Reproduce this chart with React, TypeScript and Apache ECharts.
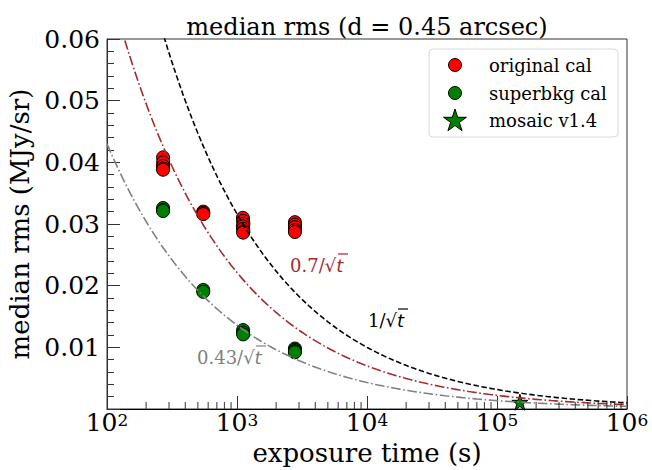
import React, { useEffect, useRef } from 'react';
import * as echarts from 'echarts';

const SERIF = '"DejaVu Serif", serif';
const SANS = '"DejaVu Sans", sans-serif';

// ---- data ----
const originalCalTime = [270, 270, 270, 270, 270, 550, 550, 550, 1110, 1115, 1120, 1110, 1115, 1120, 1115, 2790, 2790, 2790, 2790, 2790];
const originalCalRms = [0.0408, 0.0400, 0.0394, 0.0390, 0.0388, 0.0320, 0.0318, 0.0316, 0.0310, 0.0305, 0.0300, 0.0296, 0.0292, 0.0288, 0.0286, 0.0303, 0.0299, 0.0295, 0.0290, 0.0287];

const superbkgCalTime = [270, 270, 270, 550, 550, 1115, 1115, 1115, 2790, 2790, 2790, 2790];
const superbkgCalRms = [0.0326, 0.0323, 0.0321, 0.0193, 0.0190, 0.0128, 0.0124, 0.0121, 0.0098, 0.0096, 0.0094, 0.0092];

const mosaicTime = [150000];
const mosaicRms = [0.0011];

// model curves c / sqrt(t), coefficients as labelled on the chart
const modelNames = ['1/√t', '0.7/√t', '0.43/√t'];
const modelCoef = [1, 0.7, 0.43];
const modelColors = ['#000000', '#a52a2a', '#808080'];

const yTicks = [0.01, 0.02, 0.03, 0.04, 0.05, 0.06];
const xDecades = [100, 1000, 10000, 100000, 1000000];

function starPoints(cx: number, cy: number, R: number) {
  const pts: number[][] = [];
  for (let k = 0; k < 10; k++) {
    const r = k % 2 === 0 ? R : R * 0.382;
    const a = (-90 + k * 36) * Math.PI / 180;
    pts.push([cx + r * Math.cos(a), cy + r * Math.sin(a)]);
  }
  return pts;
}
const starPath = 'path://' + starPoints(50, 50, 50).map((p, i) => (i === 0 ? 'M' : 'L') + p[0].toFixed(2) + ' ' + p[1].toFixed(2)).join(' ') + ' Z';

export default function App() {
  const ref = useRef<HTMLDivElement>(null);
  useEffect(() => {
    document.body.style.margin = '0';
    const chart = echarts.init(ref.current!, null, { renderer: 'svg' });

    // sample points for the model curves (evenly in log t)
    const sampleT: number[] = [];
    for (let i = 0; i <= 240; i++) sampleT.push(Math.pow(10, 2 + (4 * i) / 240));

    const minorTicks: number[][] = [];
    for (let d = 0; d < xDecades.length - 1; d++) {
      for (let m = 2; m <= 9; m++) minorTicks.push([xDecades[d] * m, 0]);
    }

    const lineSeries = modelCoef.map((c, i) => ({
      name: modelNames[i],
      type: 'line',
      data: sampleT.map((t) => [t, c / Math.sqrt(t)]),
      showSymbol: false,
      symbol: 'none',
      clip: true,
      z: 5,
      silent: true,
      lineStyle: {
        color: modelColors[i],
        width: 1.6,
        type: i === 0 ? [5.5, 2.6] : [9.6, 2.6, 1.6, 2.6],
      },
    }));

    const legendTexts = ['original cal', 'superbkg cal', 'mosaic v1.4'];
    const legendY = [65, 93, 120];

    const option: any = {
      animation: false,
      title: {
        text: 'median rms (d = 0.45 arcsec)',
        left: 367,
        top: 15,
        textAlign: 'center',
        padding: 0,
        textStyle: { fontFamily: SERIF, fontSize: 24, fontWeight: 'normal', color: '#000' },
      },
      grid: { left: 107, right: 25, top: 39, bottom: 61, show: true, borderColor: '#333', borderWidth: 1, containLabel: false, outerBoundsMode: 'none' },
      xAxis: {
        type: 'log',
        logBase: 10,
        min: 100,
        max: 1000000,
        name: 'exposure time (s)',
        nameLocation: 'middle',
        nameGap: 27,
        nameTextStyle: { fontFamily: SERIF, fontSize: 26, color: '#000' },
        axisLine: { show: true, lineStyle: { color: '#000', width: 1 } },
        axisTick: { show: true, inside: true, length: 13, lineStyle: { color: '#333', width: 1 } },
        minorTick: { show: false },
        splitLine: { show: false },
        axisLabel: {
          margin: 2,
          formatter: (v: number) => '{b|10}{s|' + Math.round(Math.log10(v)) + '}',
          rich: {
            b: { fontFamily: SERIF, fontSize: 25, color: '#000', lineHeight: 24, verticalAlign: 'bottom' },
            s: { fontFamily: SERIF, fontSize: 17, color: '#000', lineHeight: 17, verticalAlign: 'top' },
          },
        },
      },
      yAxis: {
        type: 'value',
        min: 0,
        max: 0.06,
        interval: 0.01,
        name: 'median rms (MJy/sr)',
        nameLocation: 'middle',
        nameGap: 66,
        nameTextStyle: { fontFamily: SERIF, fontSize: 26, color: '#000' },
        axisLine: { show: true, lineStyle: { color: '#333', width: 1 } },
        axisTick: { show: true, inside: true, length: 13, lineStyle: { color: '#333', width: 1 } },
        minorTick: { show: true, splitNumber: 5, length: 7, lineStyle: { color: '#333', width: 1 } },
        splitLine: { show: false },
        minorSplitLine: { show: false },
        axisLabel: {
          margin: 7,
          fontFamily: SERIF,
          fontSize: 25,
          color: '#000',
          formatter: (v: number) => (yTicks.some((t) => Math.abs(t - v) < 1e-9) ? v.toFixed(2) : ''),
        },
      },
      series: [
        {
          name: 'original cal',
          type: 'scatter',
          data: originalCalTime.map((t, i) => [t, originalCalRms[i]]),
          symbol: 'circle',
          symbolSize: 13,
          z: 3,
          itemStyle: { color: '#ff0000', borderColor: '#000', borderWidth: 1, opacity: 1 },
        },
        {
          name: 'superbkg cal',
          type: 'scatter',
          data: superbkgCalTime.map((t, i) => [t, superbkgCalRms[i]]),
          symbol: 'circle',
          symbolSize: 13,
          z: 3,
          itemStyle: { color: '#008000', borderColor: '#000', borderWidth: 1, opacity: 1 },
        },
        {
          name: 'mosaic v1.4',
          type: 'scatter',
          data: mosaicTime.map((t, i) => [t, mosaicRms[i]]),
          symbol: starPath,
          symbolSize: 16,
          z: 4,
          itemStyle: { color: '#008000', borderColor: '#000', borderWidth: 1, opacity: 1 },
        },
        ...lineSeries,
        {
          name: 'minor ticks',
          type: 'custom',
          silent: true,
          clip: false,
          z: 6,
          data: minorTicks,
          renderItem: (params: any, api: any) => {
            const p = api.coord([api.value(0), 0]);
            return {
              type: 'line',
              shape: { x1: p[0], y1: p[1], x2: p[0], y2: p[1] - 7 },
              style: { stroke: '#333', lineWidth: 1 },
            };
          },
        },
      ],
      graphic: [
        // legend box
        {
          type: 'rect',
          z: 100,
          shape: { x: 429, y: 49, width: 189, height: 88, r: 4 },
          style: { fill: 'rgba(255,255,255,0.8)', stroke: '#d9d9d9', lineWidth: 1 },
        },
        { type: 'circle', z: 101, shape: { cx: 455, cy: legendY[0], r: 6.5 }, style: { fill: '#ff0000', stroke: '#000', lineWidth: 1 } },
        { type: 'circle', z: 101, shape: { cx: 455, cy: legendY[1], r: 6.5 }, style: { fill: '#008000', stroke: '#000', lineWidth: 1 } },
        { type: 'polygon', z: 101, shape: { points: starPoints(455, legendY[2] + 1, 12) }, style: { fill: '#008000', stroke: '#000', lineWidth: 1 } },
        ...legendTexts.map((t, i) => ({
          type: 'text',
          z: 101,
          x: 489,
          y: legendY[i],
          style: { text: t, fontFamily: SERIF, fontSize: 18, fill: '#000', textVerticalAlign: 'middle', textAlign: 'left' },
        })),
        // curve annotations
        {
          type: 'group',
          x: 290,
          y: 265,
          z: 100,
          children: [
            {
              type: 'text',
              x: 0,
              y: 0,
              style: { text: '0.7/√{i|t}', fontFamily: SERIF, fontSize: 18, fill: '#a52a2a', textVerticalAlign: 'middle', rich: { i: { fontStyle: 'italic', fontFamily: SANS, fontSize: 18, fill: '#a52a2a' } } },
            },
            { type: 'line', shape: { x1: 48, y1: -11, x2: 58, y2: -11 }, style: { stroke: '#a52a2a', lineWidth: 1.2 } },
          ],
        },
        {
          type: 'group',
          x: 368,
          y: 320,
          z: 100,
          children: [
            {
              type: 'text',
              x: 0,
              y: 0,
              style: { text: '1/√{i|t}', fontFamily: SERIF, fontSize: 18, fill: '#000', textVerticalAlign: 'middle', rich: { i: { fontStyle: 'italic', fontFamily: SANS, fontSize: 18, fill: '#000' } } },
            },
            { type: 'line', shape: { x1: 30, y1: -11, x2: 40, y2: -11 }, style: { stroke: '#000', lineWidth: 1.2 } },
          ],
        },
        {
          type: 'group',
          x: 197,
          y: 357,
          z: 100,
          children: [
            {
              type: 'text',
              x: 0,
              y: 0,
              style: { text: '0.43/√{i|t}', fontFamily: SERIF, fontSize: 18, fill: '#808080', textVerticalAlign: 'middle', rich: { i: { fontStyle: 'italic', fontFamily: SANS, fontSize: 18, fill: '#808080' } } },
            },
            { type: 'line', shape: { x1: 59, y1: -11, x2: 69, y2: -11 }, style: { stroke: '#808080', lineWidth: 1.2 } },
          ],
        },
      ],
    };
    chart.setOption(option);
    return () => chart.dispose();
  }, []);
  return <div ref={ref} style={{ width: 652, height: 470 }} />;
}
